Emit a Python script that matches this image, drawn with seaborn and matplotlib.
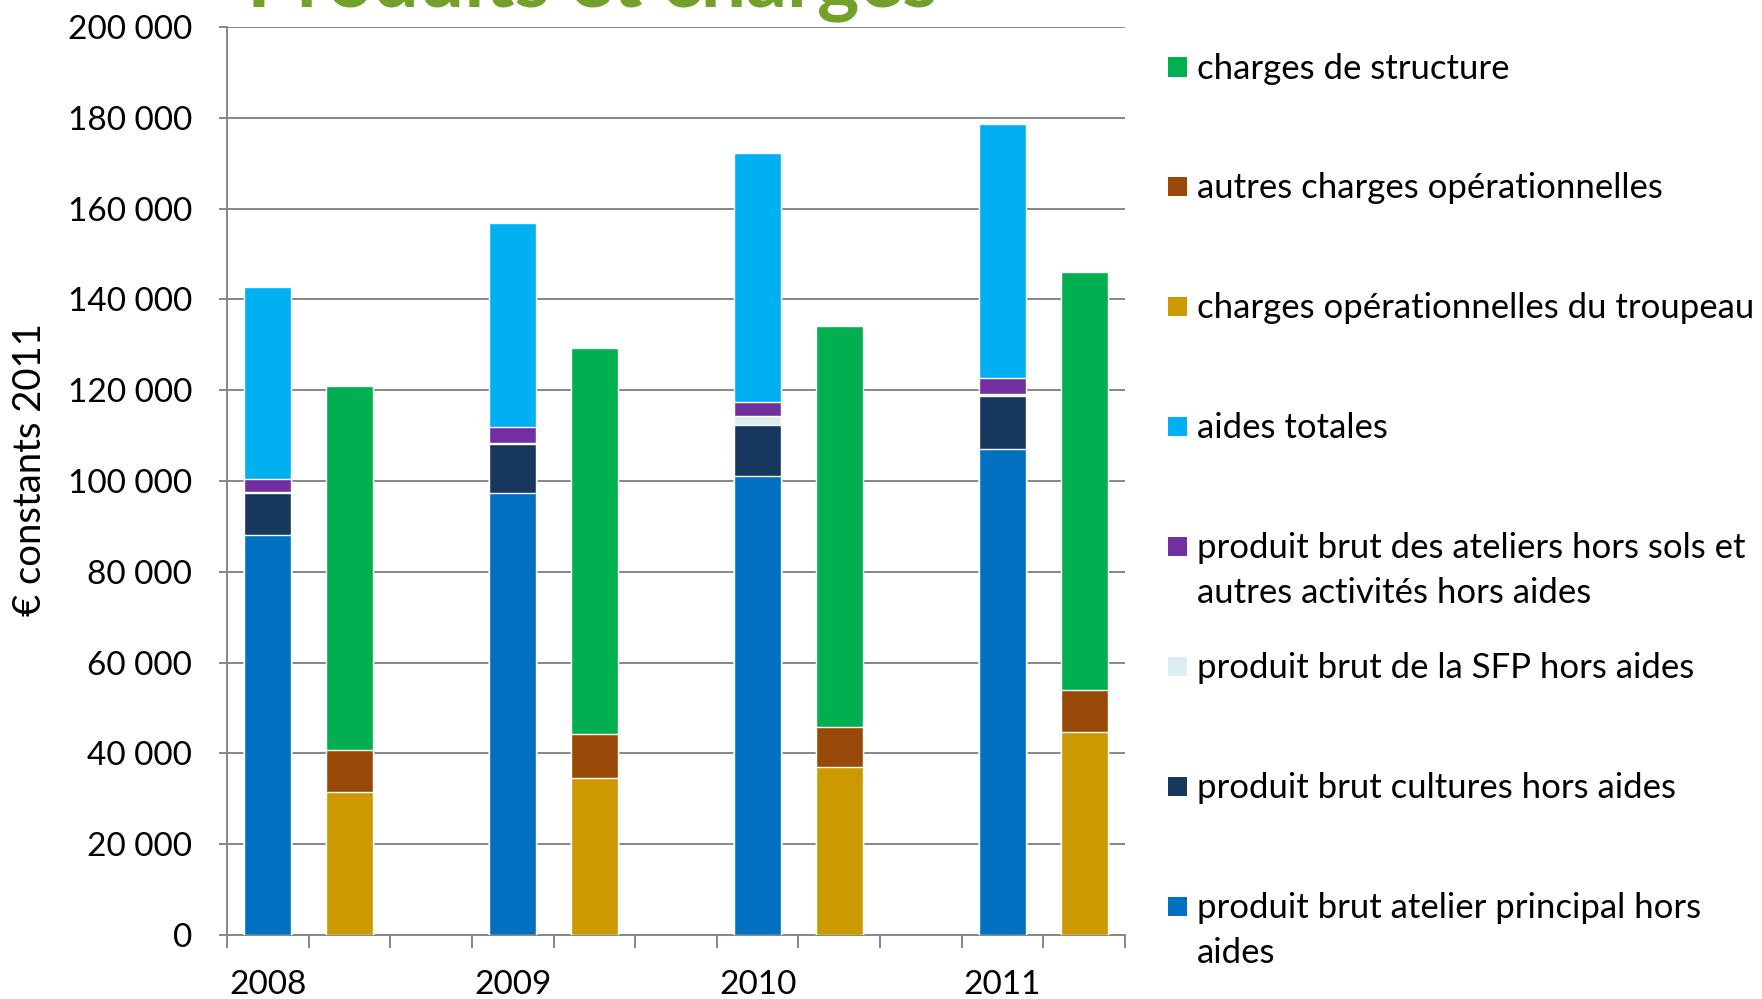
import numpy as np
import pandas as pd
import matplotlib
matplotlib.use("Agg")
import matplotlib.pyplot as plt
import seaborn as sns
from matplotlib.patches import Rectangle
from matplotlib.ticker import FuncFormatter, MultipleLocator, FixedLocator

# ---------------- data ----------------
years = ["2008", "2009", "2010", "2011"]
prod_principal = [88200, 97300, 101000, 107000]
prod_cultures = [9200, 10800, 11300, 11800]
prod_sfp = [200, 200, 2100, 400]
prod_ateliers = [2900, 3500, 2900, 3400]
aides_totales = [42300, 45100, 54900, 56000]
ch_troupeau = [31400, 34600, 37100, 44800]
ch_autres = [9400, 9700, 8700, 9100]
ch_structure = [80200, 84900, 88400, 92100]

lab_principal = "produit brut atelier principal hors\naides"
lab_cultures = "produit brut cultures hors aides"
lab_sfp = "produit brut de la SFP hors aides"
lab_ateliers = "produit brut des ateliers hors sols et\nautres activités hors aides"
lab_aides = "aides totales"
lab_troupeau = "charges opérationnelles du troupeau"
lab_autres = "autres charges opérationnelles"
lab_structure = "charges de structure"

title = "Produits et charges"
ylabel = "€ constants 2011"

colors = {
    lab_principal: "#0070C0",
    lab_cultures: "#17375E",
    lab_sfp: "#DAEEF3",
    lab_ateliers: "#7030A0",
    lab_aides: "#00B0F0",
    lab_troupeau: "#CC9900",
    lab_autres: "#984807",
    lab_structure: "#00B050",
}

prod_layers = [(lab_principal, prod_principal), (lab_cultures, prod_cultures),
               (lab_sfp, prod_sfp), (lab_ateliers, prod_ateliers), (lab_aides, aides_totales)]
charge_layers = [(lab_troupeau, ch_troupeau), (lab_autres, ch_autres), (lab_structure, ch_structure)]

# category order: produits, charges, gap for each year
order = []
for i, y in enumerate(years):
    order += [f"{y} P", f"{y} C"]
    if i < len(years) - 1:
        order.append(f"gap{i}")

rows = []
for kind, layers in (("P", prod_layers), ("C", charge_layers)):
    vals = np.array([v for _, v in layers], dtype=float)
    cum = np.cumsum(vals, axis=0)
    for li, (name, _) in enumerate(layers):
        for yi, y in enumerate(years):
            rows.append({"cat": f"{y} {kind}", "layer": name, "cum": cum[li, yi], "li": li, "kind": kind})
df = pd.DataFrame(rows)

# ---------------- figure ----------------
sns.set_theme(style="white")
plt.rcParams["font.family"] = ["Lato", "DejaVu Sans"]

fig = plt.figure(figsize=(17.62, 9.99), dpi=100)
ax = fig.add_axes([227 / 1762, 1 - 935 / 999, (1125 - 227) / 1762, (935 - 27) / 999])

for kind, layers in (("P", prod_layers), ("C", charge_layers)):
    for li in range(len(layers) - 1, -1, -1):
        name = layers[li][0]
        sub = df[(df["kind"] == kind) & (df["li"] == li)]
        sns.barplot(data=sub, x="cat", y="cum", order=order, color=colors[name],
                    saturation=1, width=0.575, errorbar=None, ax=ax, zorder=3)

gray = "#868686"
ax.set_xlim(-0.5, len(order) - 0.5)
ax.set_ylim(0, 200000)
ax.yaxis.set_major_locator(MultipleLocator(20000))
ax.yaxis.set_major_formatter(FuncFormatter(lambda v, p: f"{v:,.0f}".replace(",", " ")))
ax.yaxis.grid(True, color=gray, lw=1.4)
ax.set_axisbelow(True)
for s in ("top", "right"):
    ax.spines[s].set_visible(False)
for s in ("left", "bottom"):
    ax.spines[s].set_color(gray)
    ax.spines[s].set_linewidth(1.4)

ax.tick_params(axis="y", which="major", length=6, width=1.4, color=gray, direction="out",
               labelsize=24, pad=19, labelcolor="black", left=True)

centers = [order.index(f"{y} P") for y in years]
ax.xaxis.set_major_locator(FixedLocator(centers))
ax.set_xticklabels(years)
ax.xaxis.set_minor_locator(FixedLocator(np.arange(-0.5, len(order), 1.0)))
ax.tick_params(axis="x", which="major", length=0, labelsize=24, pad=25, labelcolor="black")
ax.tick_params(axis="x", which="minor", length=9, width=1.4, color=gray, direction="out", bottom=True)

ax.set_xlabel("")
ax.set_ylabel("")
fig.text(30 / 1762, 1 - 470 / 999, ylabel, rotation=90, ha="center", va="center",
         fontsize=27.5, color="black")

# title (partially cut at the top, as in the reference)
fig.text(247 / 1762, 1 - 6 / 999, title, ha="left", va="baseline",
         fontsize=58, fontweight="bold", color="#71A129")

# legend (manual, evenly spaced entries)
legend_order = [lab_structure, lab_autres, lab_troupeau, lab_aides,
                lab_ateliers, lab_sfp, lab_cultures, lab_principal]
y0 = 67.5
step = 119.9
line_step = 45.0
for i, lab in enumerate(legend_order):
    yc = y0 + i * step
    fig.patches.append(Rectangle((1168 / 1762, 1 - (yc + 9) / 999), 19 / 1762, 19 / 999,
                                 transform=fig.transFigure, facecolor=colors[lab],
                                 edgecolor="none"))
    for k, line in enumerate(lab.split("\n")):
        fig.text(1197 / 1762, 1 - (yc + 11 + k * line_step) / 999, line, ha="left",
                 va="baseline", fontsize=25, color="black", transform=fig.transFigure)

fig.savefig("out.png", dpi=100)
